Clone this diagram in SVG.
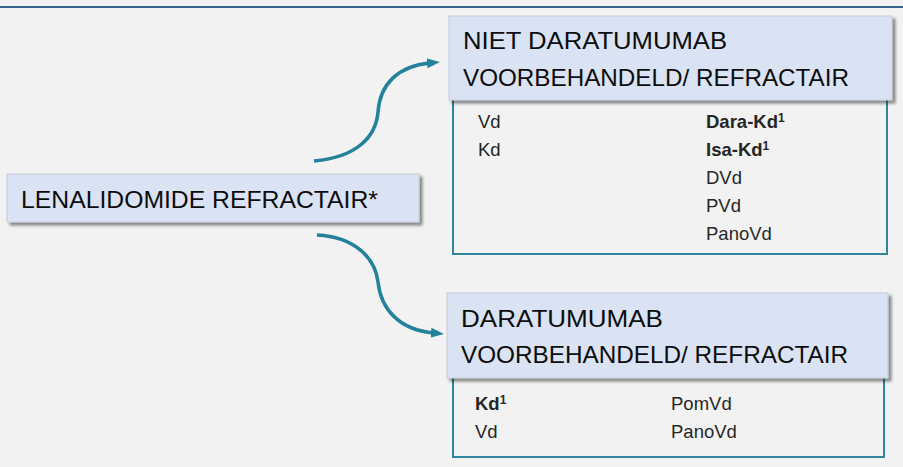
<svg xmlns="http://www.w3.org/2000/svg" width="903" height="467" viewBox="0 0 903 467">
  <style>
    .hdr { fill: #dae3f3; stroke: #c3cad6; stroke-width: 1; filter: url(#sh); }
    .body { fill: none; stroke: #31859c; stroke-width: 2; }
    .t { font-family: "Liberation Sans", Arial, sans-serif; fill: #0d0d0d; }
    .big { font-size: 24px; }
    .sm { font-size: 18.5px; fill: #262626; }
    .b { font-weight: bold; }
    .sup { font-size: 12px; }
    .conn { fill: none; stroke: #23819b; stroke-width: 3.5; marker-end: url(#ah); }
  </style>
  <defs>
    <filter id="sh" x="-5%" y="-20%" width="115%" height="150%">
      <feDropShadow dx="3" dy="3" stdDeviation="1.8" flood-color="#000" flood-opacity="0.45"/>
    </filter>
    <marker id="ah" viewBox="0 0 13 10" markerWidth="13" markerHeight="10" markerUnits="userSpaceOnUse" refX="3" refY="5" orient="auto">
      <path d="M0,0 L13,5 L0,10 Z" fill="#23819b"/>
    </marker>
  </defs>
  <rect x="0" y="0" width="903" height="467" fill="#f2f2f2"/>
  <rect x="0" y="6" width="903" height="2" fill="#3b6591"/>

  <g id="connectors">
    <path class="conn" d="M314,161 C358,157 376,136 378,112 C380,84 398,66 430,63"/>
    <path class="conn" d="M317,235 C354,237 375,257 378,282 C381,310 400,330 434,333"/>
  </g>

  <g id="lenalidomide">
    <rect class="hdr" x="7" y="174" width="412" height="48"/>
    <text class="t big" x="21" y="208" font-size="25" textLength="357" lengthAdjust="spacingAndGlyphs">LENALIDOMIDE REFRACTAIR*</text>
  </g>

  <g id="niet-dara">
    <rect class="body" x="453" y="95" width="434" height="159"/>
    <rect class="hdr" x="449" y="16" width="443" height="84"/>
    <text class="t big" x="463" y="49" textLength="264" lengthAdjust="spacingAndGlyphs">NIET DARATUMUMAB</text>
    <text class="t big" x="463" y="86" textLength="386" lengthAdjust="spacingAndGlyphs">VOORBEHANDELD/ REFRACTAIR</text>
    <text class="t sm" x="478" y="128">Vd</text>
    <text class="t sm" x="478" y="156">Kd</text>
    <text class="t sm b" x="706" y="128">Dara-Kd<tspan class="sup" dy="-6">1</tspan></text>
    <text class="t sm b" x="706" y="156">Isa-Kd<tspan class="sup" dy="-6">1</tspan></text>
    <text class="t sm" x="706" y="184">DVd</text>
    <text class="t sm" x="706" y="212">PVd</text>
    <text class="t sm" x="706" y="240">PanoVd</text>
  </g>

  <g id="dara">
    <rect class="body" x="453" y="372" width="431" height="85"/>
    <rect class="hdr" x="447" y="293" width="441" height="85"/>
    <text class="t big" x="461" y="327" textLength="202" lengthAdjust="spacingAndGlyphs">DARATUMUMAB</text>
    <text class="t big" x="461" y="363" textLength="387" lengthAdjust="spacingAndGlyphs">VOORBEHANDELD/ REFRACTAIR</text>
    <text class="t sm b" x="475" y="410">Kd<tspan class="sup" dy="-6">1</tspan></text>
    <text class="t sm" x="475" y="438">Vd</text>
    <text class="t sm" x="671" y="410">PomVd</text>
    <text class="t sm" x="671" y="438">PanoVd</text>
  </g>
</svg>
